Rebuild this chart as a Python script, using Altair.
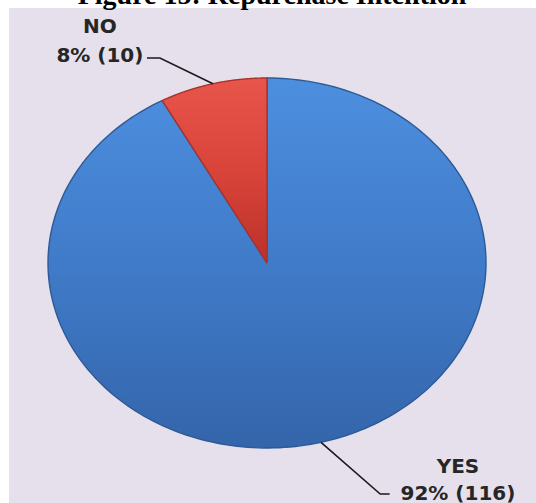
import altair as alt
import pandas as pd

# ---------------- data ----------------
categories = ["YES", "NO"]
counts = [116, 10]
title_text = "Figure 15: Repurchase Intention"

# ---------------- layout / style (not data) ----------------
W, H = 536, 503
CX, CY, RX, RY = 267, 263, 219, 185
N_STEPS = 240
FONT = "DejaVu Sans"
LABEL_SIZE = 20
# label anchor positions in pie units (x: -1..1 across, y: -1..1 up)
LABEL_POS = {"YES": (0.872, -1.135, -1.283), "NO": (-0.763, 1.243, 1.087)}
LEADER_PTS = {"YES": [(0.517, -1.249), (0.560, -1.249)],
              "NO": [(-0.489, 1.108), (-0.548, 1.108)]}
FILLS = {
    "YES": alt.LinearGradient(
        gradient="linear", x1=0, x2=0, y1=0, y2=1,
        stops=[alt.GradientStop(color="#4d8fdf", offset=0),
               alt.GradientStop(color="#407bc9", offset=0.5),
               alt.GradientStop(color="#3465aa", offset=1)]),
    "NO": alt.LinearGradient(
        gradient="linear", x1=0, x2=0, y1=0, y2=1,
        stops=[alt.GradientStop(color="#e8554a", offset=0),
               alt.GradientStop(color="#d9443a", offset=0.5),
               alt.GradientStop(color="#bb3129", offset=1)]),
}
STROKES = {"YES": "#2d5a96", "NO": "#a9322b"}

# ---------------- tables built from the data ----------------
total = sum(counts)
fracs = [c / total for c in counts]
starts = []
acc = 0.0
for f in fracs:
    starts.append(acc)
    acc += f

pie_rows = []
for cat, s, f in zip(categories, starts, fracs):
    for k in range(-1, N_STEPS + 2):
        pie_rows.append({"category": cat, "start": s, "end": s + f,
                         "step": k, "n": N_STEPS})
pie_df = pd.DataFrame(pie_rows)

leader_rows = []
for cat, s, f in zip(categories, starts, fracs):
    mid = s + f / 2
    leader_rows.append({"category": cat, "pt": 0, "mid": mid, "ex": 0.0, "ey": 0.0})
    for j, (ex, ey) in enumerate(LEADER_PTS[cat]):
        leader_rows.append({"category": cat, "pt": j + 1, "mid": mid, "ex": ex, "ey": ey})
leader_df = pd.DataFrame(leader_rows)

label_rows = []
for cat, c, f in zip(categories, counts, fracs):
    lx, y_name, y_val = LABEL_POS[cat]
    label_rows.append({"category": cat, "text": cat, "lx": lx, "ly": y_name})
    label_rows.append({"category": cat, "text": f"{round(f * 100)}% ({c})", "lx": lx, "ly": y_val})
label_df = pd.DataFrame(label_rows)

x_scale = alt.Scale(domain=[-1, 1], range=[CX - RX, CX + RX], nice=False, zero=False)
y_scale = alt.Scale(domain=[-1, 1], range=[CY + RY, CY - RY], nice=False, zero=False)

# ---------------- layers ----------------
background = alt.Chart(alt.Data(values=[{"a": 1}])).mark_rect(
    color="#e5e0eb"
).encode(x=alt.value(9), x2=alt.value(W), y=alt.value(8), y2=alt.value(H))

title = alt.Chart(alt.Data(values=[{"t": title_text}])).mark_text(
    font="Liberation Serif", fontSize=28, fontWeight="bold", color="#000000",
    align="center", baseline="alphabetic"
).encode(x=alt.value(272), y=alt.value(4), text="t:N")

slices = []
for cat in categories:
    slices.append(
        alt.Chart(pie_df).transform_filter(
            alt.datum.category == cat
        ).transform_calculate(
            theta="2*PI*(datum.start + (datum.end - datum.start)*clamp(datum.step,0,datum.n)/datum.n)",
            px="(datum.step < 0 || datum.step > datum.n) ? 0 : sin(datum.theta)",
            py="(datum.step < 0 || datum.step > datum.n) ? 0 : cos(datum.theta)",
        ).mark_line(
            fill=FILLS[cat], stroke=STROKES[cat], strokeWidth=1.4,
            strokeJoin="round", interpolate="linear"
        ).encode(
            x=alt.X("px:Q", scale=x_scale, axis=None),
            y=alt.Y("py:Q", scale=y_scale, axis=None),
            order=alt.Order("step:Q"),
        )
    )

leaders = alt.Chart(leader_df).transform_calculate(
    lx="datum.pt == 0 ? sin(2*PI*datum.mid) : datum.ex",
    ly="datum.pt == 0 ? cos(2*PI*datum.mid) : datum.ey",
).mark_line(color="#1a1a1a", strokeWidth=1.6).encode(
    x=alt.X("lx:Q", scale=x_scale, axis=None),
    y=alt.Y("ly:Q", scale=y_scale, axis=None),
    detail="category:N",
    order=alt.Order("pt:Q"),
)

labels = alt.Chart(label_df).mark_text(
    font=FONT, fontSize=LABEL_SIZE, fontWeight="bold", color="#262626",
    align="center", baseline="alphabetic"
).encode(
    x=alt.X("lx:Q", scale=x_scale, axis=None),
    y=alt.Y("ly:Q", scale=y_scale, axis=None),
    text="text:N",
)

chart = alt.layer(background, *slices, leaders, labels, title).properties(
    width=W, height=H, padding=0, autosize=alt.AutoSizeParams(type="none"),
    background="#ffffff",
).configure_view(stroke=None)

chart.save("out.html", embed_options={"renderer": "svg", "actions": False})
